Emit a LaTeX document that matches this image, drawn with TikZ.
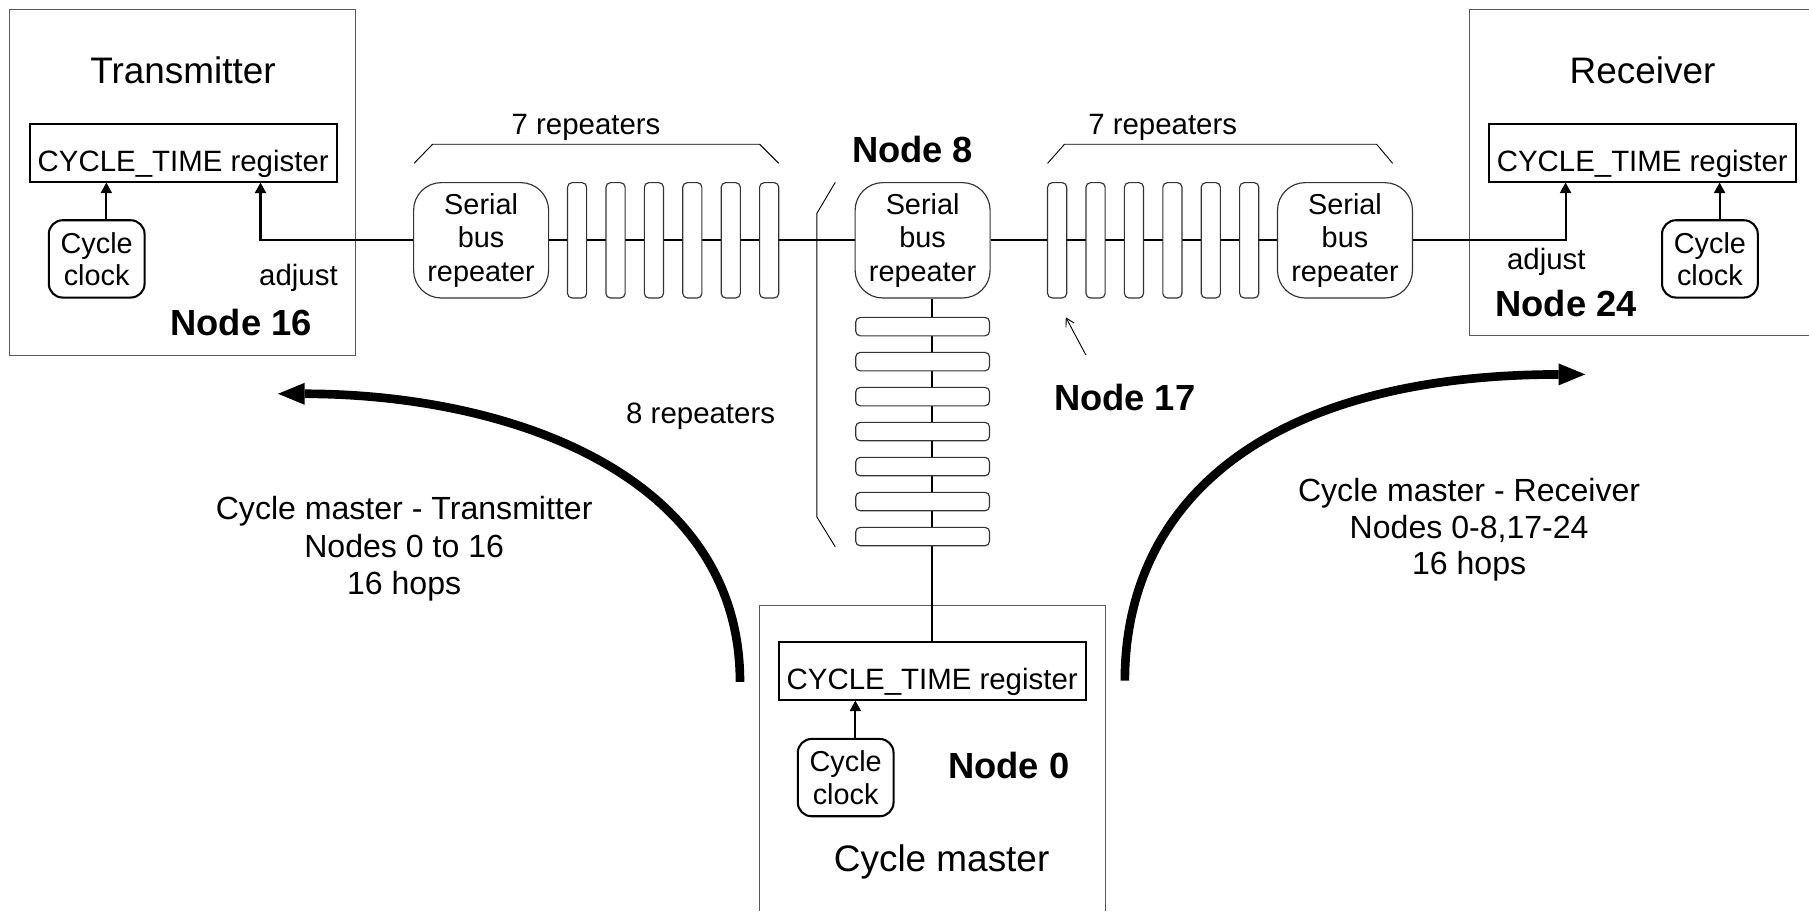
\documentclass[tikz,border=0pt]{standalone}
\usepackage{fontspec}
\setmainfont{Liberation Sans}
\usepackage{xcolor}
\usetikzlibrary{arrows.meta}

\tikzset{
  caja/.style={draw=black!65, line width=1pt},
  registro/.style={draw, line width=1.8pt, font=\fontsize{25.5}{28}\selectfont,
    text height=32pt, text depth=0pt, inner ysep=9pt, inner xsep=0pt, minimum width=266pt},
  reloj/.style={draw, line width=1.8pt, rounded corners=12pt, align=center,
    font=\fontsize{25}{28}\selectfont, minimum width=83pt, minimum height=67pt, inner sep=0pt},
  sbr/.style={draw=black!80, line width=1pt, rounded corners=24pt, fill=white, align=center,
    font=\fontsize{25}{29.2}\selectfont, minimum width=117pt, minimum height=100pt, inner sep=0pt},
  vrep/.style={draw=black!80, line width=1pt, rounded corners=4pt, fill=white,
    minimum width=16.6pt, minimum height=100pt, inner sep=0pt},
  hrep/.style={draw=black!80, line width=1pt, rounded corners=4pt, fill=white,
    minimum width=116pt, minimum height=16pt, inner sep=0pt},
  bus/.style={line width=2pt},
  flecha/.style={line width=1.8pt, -{Triangle[length=9pt,width=10pt,line width=0pt]}},
  flechagrande/.style={line width=7.5pt, -{Triangle[length=23pt,width=19pt,line width=0pt]}},
  fina/.style={line width=0.8pt, -{Straight Barb[length=7pt,width=8pt]}},
  llave/.style={line width=0.8pt},
  txt/.style={font=\fontsize{25.5}{32.5}\selectfont, align=center},
  camino/.style={font=\fontsize{27.8}{32.5}\selectfont, align=center},
  titulo/.style={font=\fontsize{32}{36}\selectfont},
  nodo/.style={font=\fontsize{31.5}{36}\selectfont\bfseries},
}

\begin{document}
\begin{tikzpicture}[x=1pt,y=-1pt]
        \useasboundingbox (0,0) rectangle (1568,790);
        \def\yb{208.3} % altura del bus
        % cajas de los nodos
        \draw[caja] (8.5,8.5) rectangle (308.5,308); % transmisor
        \draw[caja] (1568,8.5) -- (1273.5,8.5) -- (1273.5,291) -- (1568,291); % receptor
        \draw[caja] (658.5,790) -- (658.5,524.5) -- (958.5,524.5) -- (958.5,790); % maestro
        \node[titulo, anchor=base] (tTx) at (158.7,72.2) {Transmitter};
        \node[titulo, anchor=base] (tRx) at (1423.7,72.2) {Receiver};
        \node[titulo, anchor=base] (tCm) at (816.2,755.5) {Cycle master};
        % registros y relojes
        \node[registro, anchor=south] (reg16) at (158.8,158.3) {CYCLE\_TIME register};
        \node[registro, anchor=south] (reg24) at (1423.5,158.3) {CYCLE\_TIME register};
        \node[registro, anchor=south] (reg0) at (808,607.3) {CYCLE\_TIME register};
        \node[reloj] (clk16) at (83.8,224.4) {Cycle\\clock};
        \node[reloj] (clk24) at (1482.1,224.4) {Cycle\\clock};
        \node[reloj] (clk0) at (733,674) {Cycle\\clock};
        \foreach \c/\r in {clk16/reg16,clk24/reg24,clk0/reg0}
        \draw[flecha] ([xshift=8.4pt]\c.north) -- ([xshift=8.4pt]\c.north |- \r.south);
        % repetidores
        \node[sbr] (sbrA) at (417,\yb) {Serial\\bus\\repeater};
        \node[sbr] (sbrB) at (799.7,\yb) {Serial\\bus\\repeater};
        \node[sbr] (sbrC) at (1165.8,\yb) {Serial\\bus\\repeater};
        \draw[bus] (sbrA) -- (sbrB);
        \draw[bus] (sbrB) -- (sbrC);
        \draw[bus] (reg0.north) -- (reg0.north |- sbrB.south);
        \draw[flecha] (sbrA) -| ([xshift=67pt]reg16.south); % adjust
        \draw[flecha] (sbrC) -| ([xshift=-66.5pt]reg24.south); % adjust
        \foreach \i in {0,...,5}
        {
        \node[vrep] (vl\i) at (500.2+33.3*\i,\yb) {};
        \node[vrep] (vr\i) at (916.3+33.3*\i,\yb) {};
        }
        \foreach \i in {0,...,6}
        \node[hrep] (h\i) at (799.7,283.1+30.33*\i) {};
        % llaves
        \draw[llave] (359,141.5) -- (375,125) -- (658.4,125) -- (675,141.6);
        \draw[llave] (908,141.6) -- (922.7,125) -- (1193.2,125) -- (1207.1,141.6);
        \draw[llave] (724,158) -- (708,185) -- (708,448) -- (724,474);
        % textos
        \node[txt, anchor=base] (l7a) at (508,117) {7 repeaters};
        \node[txt, anchor=base] (l7b) at (1007.8,117) {7 repeaters};
        \node[txt, anchor=base] (l8) at (607.3,367.5) {8 repeaters};
        \node[txt, anchor=base] (adj16) at (258.7,247.6) {adjust};
        \node[txt, anchor=base] (adj24) at (1340.3,233.4) {adjust};
        \node[nodo, anchor=base] (n16) at (209,290.4) {Node 16};
        \node[nodo, anchor=base] (n24) at (1357.4,274.5) {Node 24};
        \node[nodo, anchor=base] (n8) at (791,141) {Node 8};
        \node[nodo, anchor=base] (n17) at (974.9,355.4) {Node 17};
        \node[nodo, anchor=base] (n0) at (874.4,674.6) {Node 0};
        \coordinate (p17) at (941.2,307.7);
        \coordinate (q17) at (923.8,275);
        \draw[fina] (p17) -- (q17);
        % caminos
        \coordinate (a1) at (641.4,591);
        \coordinate (a2) at (241,341.3);
        \draw[flechagrande] (a1) .. controls (641.4,411) and (441,341.5) .. (a2);
        \coordinate (b1) at (975,590);
        \coordinate (b2) at (1374,324.5);
        \draw[flechagrande] (b1) .. controls (975,440) and (1090,325) .. (b2);
        \node[camino] (ctx) at (350.3,475.9) {Cycle master - Transmitter\\Nodes 0 to 16\\16 hops};
        \node[camino, font=\fontsize{27.8}{31.8}\selectfont] (crx) at (1273.4,459.2) {Cycle master - Receiver\\Nodes 0-8,17-24\\16 hops};
\end{tikzpicture}
\end{document}
